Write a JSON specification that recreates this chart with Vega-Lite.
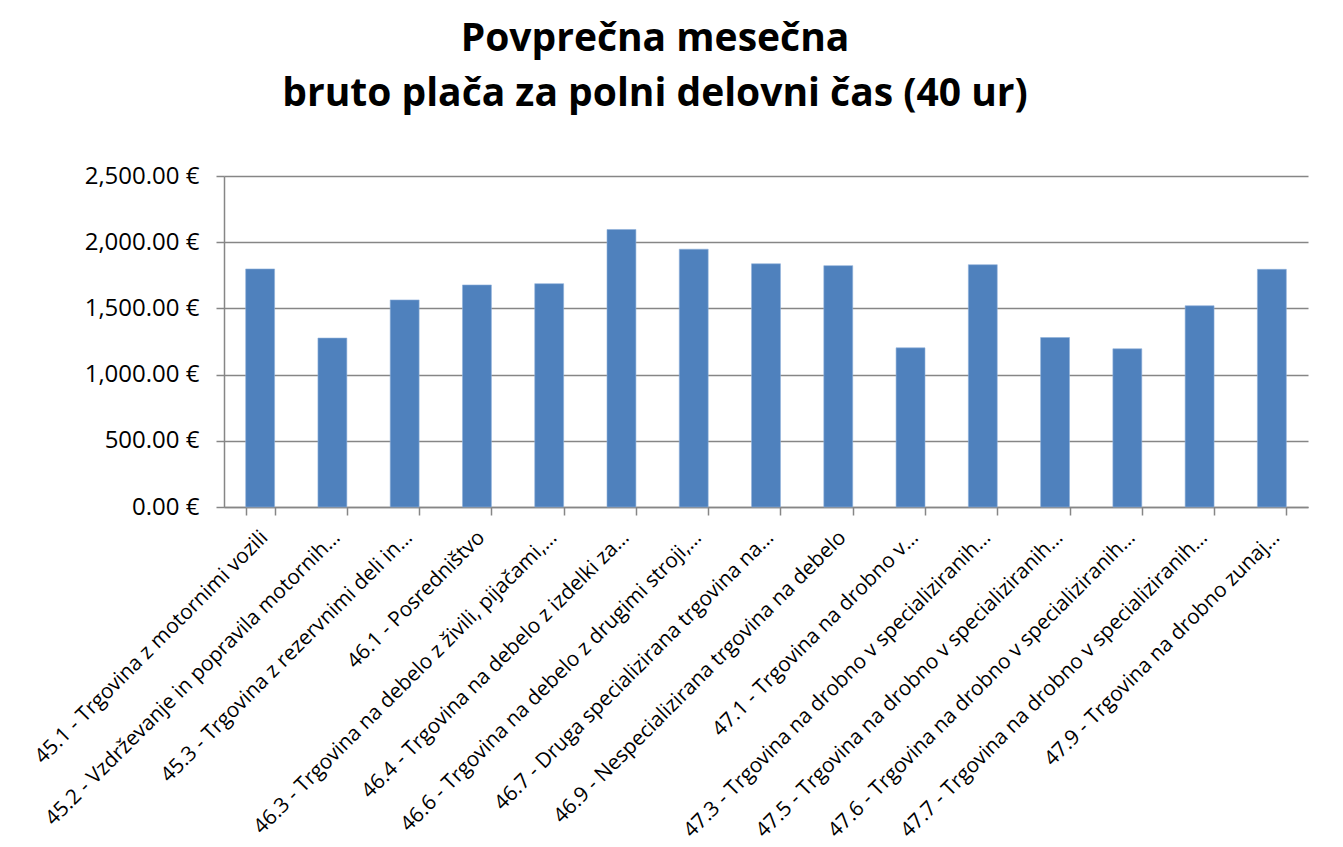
{
  "$schema": "https://vega.github.io/schema/vega-lite/v6.json",
  "width": 1084,
  "height": 331,
  "autosize": {"type": "none"},
  "padding": {"left": 224, "top": 176, "right": 35, "bottom": 340},
  "background": "white",
  "title": {
    "text": ["Povprečna mesečna", "bruto plača za polni delovni čas (40 ur)"],
    "font": "Open Sans",
    "fontSize": 39,
    "fontWeight": "bold",
    "color": "black",
    "lineHeight": 55,
    "anchor": "middle",
    "frame": "group",
    "dx": -111,
    "offset": 50
  },
  "data": {
    "values": [
      {"kategorija": "45.1 - Trgovina z motornimi vozili", "placa": 1798},
      {"kategorija": "45.2 - Vzdrževanje in popravila motornih…", "placa": 1276},
      {"kategorija": "45.3 - Trgovina z rezervnimi deli in…", "placa": 1564},
      {"kategorija": "46.1 - Posredništvo", "placa": 1677},
      {"kategorija": "46.3 - Trgovina na debelo z živili, pijačami,…", "placa": 1687},
      {"kategorija": "46.4 - Trgovina na debelo z izdelki za…", "placa": 2096},
      {"kategorija": "46.6 - Trgovina na debelo z drugimi stroji,…", "placa": 1947},
      {"kategorija": "46.7 - Druga specializirana trgovina na…", "placa": 1837},
      {"kategorija": "46.9 - Nespecializirana trgovina na debelo", "placa": 1823},
      {"kategorija": "47.1 - Trgovina na drobno v…", "placa": 1202},
      {"kategorija": "47.3 - Trgovina na drobno v specializiranih…", "placa": 1830},
      {"kategorija": "47.5 - Trgovina na drobno v specializiranih…", "placa": 1280},
      {"kategorija": "47.6 - Trgovina na drobno v specializiranih…", "placa": 1195},
      {"kategorija": "47.7 - Trgovina na drobno v specializiranih…", "placa": 1520},
      {"kategorija": "47.9 - Trgovina na drobno zunaj…", "placa": 1795}
    ]
  },
  "mark": {"type": "bar", "color": "#4F81BD", "stroke": "#8EB0DA", "strokeWidth": 0.6},
  "encoding": {
    "x": {
      "field": "kategorija",
      "type": "nominal",
      "sort": null,
      "scale": {"paddingInner": 0.6, "paddingOuter": 0.3},
      "axis": {
        "title": null,
        "labelAngle": -45,
        "labelAlign": "right",
        "labelBaseline": "top",
        "labelFont": "Open Sans",
        "labelFontSize": 20.8,
        "labelColor": "black",
        "labelPadding": 12,
        "labelOffset": -3,
        "labelLimit": 800,
        "tickBand": "extent",
        "tickSize": 8,
        "tickColor": "#868686",
        "tickWidth": 1.5,
        "domainColor": "#868686",
        "domainWidth": 1.5,
        "grid": false
      }
    },
    "y": {
      "field": "placa",
      "type": "quantitative",
      "scale": {"domain": [0, 2500]},
      "axis": {
        "title": null,
        "values": [0, 500, 1000, 1500, 2000, 2500],
        "labelExpr": "format(datum.value, ',.2f') + ' €'",
        "labelFont": "Open Sans",
        "labelFontSize": 24,
        "labelColor": "black",
        "labelPadding": 17,
        "tickSize": 8,
        "tickColor": "#868686",
        "tickWidth": 1.5,
        "domainColor": "#868686",
        "domainWidth": 1.5,
        "grid": true,
        "gridColor": "#868686",
        "gridWidth": 1.5
      }
    }
  },
  "config": {"view": {"stroke": null}}
}
